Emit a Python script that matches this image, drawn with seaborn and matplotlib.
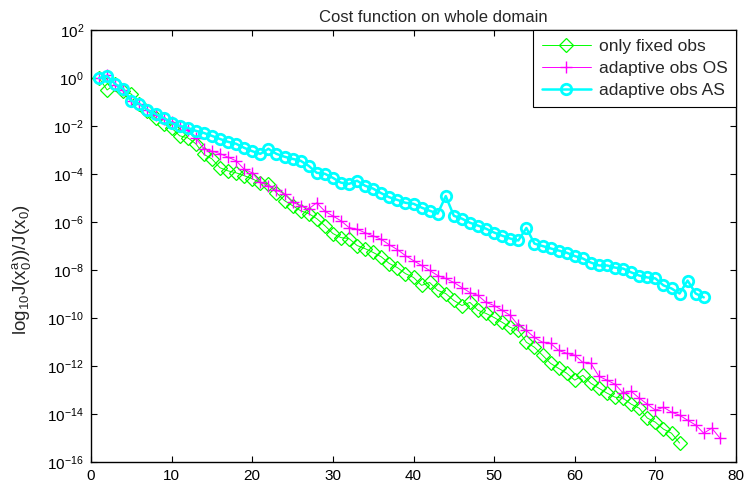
import numpy as np
import pandas as pd
import matplotlib
matplotlib.use("Agg")
import matplotlib.pyplot as plt
import seaborn as sns

# ---- data (log10 of J(x0^a)/J(x0)) ----
iter_fixed = list(range(1, 74))
only_fixed_log10 = [0, -0.5, -0.25, -0.55, -0.67, -1.08, -1.37, -1.66, -1.91, -2.08,
                    -2.41, -2.49, -2.74, -3.18, -3.37, -3.74, -3.87, -3.95, -4.07, -4.2,
                    -4.36, -4.41, -4.78, -5.11, -5.32, -5.53, -5.65, -5.86, -6.15, -6.48,
                    -6.65, -6.69, -6.98, -7.11, -7.27, -7.45, -7.73, -7.9, -8.15, -8.31,
                    -8.64, -8.52, -8.85, -8.98, -9.27, -9.48, -9.35, -9.68, -9.81, -9.98,
                    -10.18, -10.39, -10.52, -11.01, -11.22, -11.55, -11.89, -12.1, -12.3, -12.59,
                    -12.39, -12.72, -12.93, -13.13, -13.3, -13.34, -13.59, -13.76, -14.17, -14.34,
                    -14.63, -14.8, -15.21]

iter_os = list(range(1, 79))
adaptive_os_log10 = [0, 0.12, -0.3, -0.5, -0.95, -1.1, -1.35, -1.55, -1.7, -1.85,
                     -2.0, -2.15, -2.5, -2.95, -3.05, -3.15, -3.3, -3.45, -3.8, -3.95,
                     -4.35, -4.5, -4.68, -4.82, -5.18, -5.32, -5.45, -5.2, -5.55, -5.75,
                     -5.95, -6.23, -6.3, -6.45, -6.58, -6.72, -6.95, -7.15, -7.4, -7.61,
                     -7.81, -8.02, -8.23, -8.35, -8.52, -8.73, -8.94, -9.06, -9.35, -9.48,
                     -9.68, -9.89, -10.31, -10.52, -10.81, -11.01, -11.06, -11.35, -11.47, -11.55,
                     -11.85, -11.89, -12.43, -12.59, -12.76, -13.13, -13.05, -13.34, -13.59, -13.84,
                     -13.72, -13.92, -14.05, -14.26, -14.46, -14.8, -14.59, -15.0]

iter_as = list(range(1, 77))
adaptive_as_log10 = [0, 0.08, -0.25, -0.45, -0.95, -1.08, -1.33, -1.5, -1.66, -1.88,
                     -2.0, -2.08, -2.2, -2.29, -2.41, -2.54, -2.66, -2.74, -2.91, -3.05,
                     -3.16, -2.95, -3.16, -3.28, -3.37, -3.45, -3.66, -3.95, -3.99, -4.16,
                     -4.36, -4.41, -4.28, -4.49, -4.61, -4.8, -4.97, -5.08, -5.2, -5.24,
                     -5.4, -5.53, -5.65, -4.92, -5.74, -5.86, -6.03, -6.15, -6.28, -6.44,
                     -6.57, -6.69, -6.77, -6.25, -6.9, -7.0, -7.1, -7.19, -7.28, -7.42,
                     -7.52, -7.69, -7.81, -7.81, -7.9, -7.94, -8.1, -8.23, -8.31, -8.35,
                     -8.64, -8.77, -8.98, -8.44, -8.98, -9.14]

labels = ["only fixed obs", "adaptive obs OS", "adaptive obs AS"]
x_ticks = list(range(0, 81, 10))
y_tick_exps = list(range(-16, 3, 2))

# ---- style ----
sns.set_style("ticks")
plt.rcParams["font.family"] = ["Liberation Sans", "DejaVu Sans"]
plt.rcParams["mathtext.default"] = "regular"
plt.rcParams["font.size"] = 11

fig = plt.figure(figsize=(7.45, 4.86), dpi=100)
ax = fig.add_axes([91 / 745, 24 / 486, 645 / 745, 432 / 486])

df_fixed = pd.DataFrame({"iter": iter_fixed, "J": np.power(10.0, only_fixed_log10)})
df_os = pd.DataFrame({"iter": iter_os, "J": np.power(10.0, adaptive_os_log10)})
df_as = pd.DataFrame({"iter": iter_as, "J": np.power(10.0, adaptive_as_log10)})

sns.lineplot(data=df_fixed, x="iter", y="J", ax=ax, color="#00ff00", linewidth=0.7,
             marker="D", markersize=7, markerfacecolor="none",
             markeredgecolor="#00ff00", markeredgewidth=0.9,
             estimator=None, sort=False, label=labels[0])
sns.lineplot(data=df_os, x="iter", y="J", ax=ax, color="#ff00ff", linewidth=0.7,
             marker="+", markersize=8, markeredgecolor="#ff00ff", markeredgewidth=1.0,
             estimator=None, sort=False, label=labels[1])
sns.lineplot(data=df_as, x="iter", y="J", ax=ax, color="#00ffff", linewidth=1.8,
             marker="o", markersize=7.5, markerfacecolor="none",
             markeredgecolor="#00ffff", markeredgewidth=2.0,
             estimator=None, sort=False, label=labels[2])

ax.set_yscale("log")
ax.set_xlim(0, 80)
ax.set_ylim(1e-16, 1e2)
ax.set_xticks(x_ticks)
ax.set_xticklabels([str(v) for v in x_ticks])
ax.set_yticks([10.0 ** e for e in y_tick_exps])
ax.yaxis.set_minor_locator(matplotlib.ticker.NullLocator())
ax.tick_params(direction="in", top=True, right=True, length=4.5, width=0.8,
               labelsize=11, colors="black", pad=5)
for s in ax.spines.values():
    s.set_linewidth(1.0)
    s.set_color("black")

ax.set_xlabel("")
ax.set_ylabel(r"log$_{10}$J(x$_0^a$))/J(x$_0$)", fontsize=13.5)
ax.yaxis.set_label_coords(-0.09, 0.445)
ax.set_title("Cost function on whole domain", fontsize=12, pad=6)
ax.title.set_x(0.53)

leg = ax.legend(loc="upper right", frameon=True, fancybox=False, edgecolor="black",
                framealpha=1, borderaxespad=0, handlelength=2.8, numpoints=1,
                fontsize=12.5, borderpad=0.5, labelspacing=0.4, handletextpad=0.45)
leg.get_frame().set_linewidth(0.8)

fig.savefig("out.png", dpi=100)
